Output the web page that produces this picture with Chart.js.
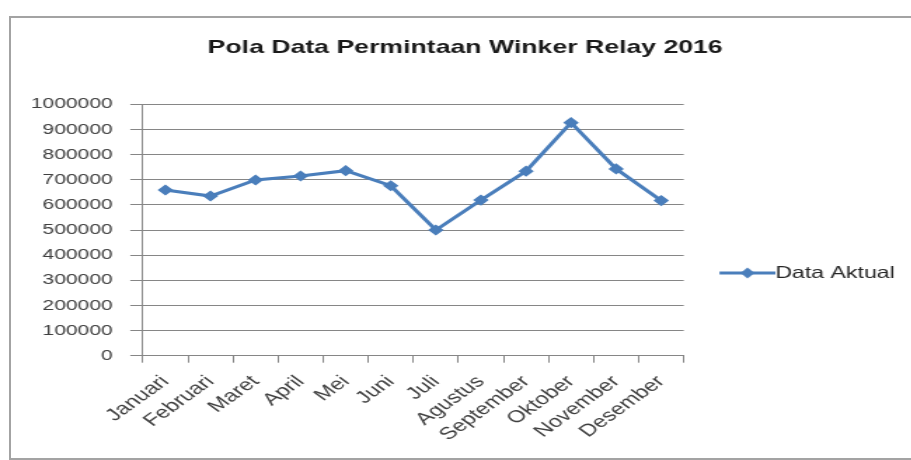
<!DOCTYPE html>
<html>
<head>
<meta charset="utf-8">
<title>Pola Data Permintaan Winker Relay 2016</title>
<script src="https://cdn.jsdelivr.net/npm/chart.js@4/dist/chart.umd.min.js"></script>
<style>
    body { margin: 0; background: #fff; overflow: hidden; }
    #frame {
        position: absolute; left: 9px; top: 16px;
        width: 1000px; height: 440px;
        border: 2px solid #a3a3a3;
    }
    /* the original picture is stretched sideways, so the chart is too */
    #wrap {
        position: absolute; left: 0; top: 0;
        width: 643.5px; height: 460px;
        transform: scaleX(1.4); transform-origin: 0 0;
    }
</style>
</head>
<body>
<div id="frame"></div>
<div id="wrap"><canvas id="myChart01"></canvas></div>

<script>
var bulan = ['Januari', 'Februari', 'Maret', 'April', 'Mei', 'Juni', 'Juli',
    'Agustus', 'September', 'Oktober', 'November', 'Desember'];
var dataAktual = [659000, 635000, 699000, 715000, 736000, 676000, 500000,
    619000, 734000, 927000, 743000, 617000];
var yMin = 0;
var yMax = 1000000;
var yStep = 100000;

document.addEventListener("DOMContentLoaded", function() {
    var biru = '#4a7ebb';
    var abu = '#868686';

    // legend icon: line with diamond, like excel
    var icon = document.createElement('canvas');
    icon.width = 48;
    icon.height = 14;
    var ic = icon.getContext('2d');
    ic.strokeStyle = biru;
    ic.lineWidth = 3;
    ic.beginPath();
    ic.moveTo(8, 7);
    ic.lineTo(48, 7);
    ic.stroke();
    ic.fillStyle = biru;
    ic.beginPath();
    ic.moveTo(28 - 5, 7);
    ic.lineTo(28, 7 - 5.5);
    ic.lineTo(28 + 5, 7);
    ic.lineTo(28, 7 + 5.5);
    ic.closePath();
    ic.fill();

    var data1 = {
        labels: bulan,
        datasets: [{
            label: 'Data Aktual',
            data: dataAktual,
            borderColor: biru,
            backgroundColor: biru,
            borderWidth: 3,
            tension: 0,
            fill: false,
            pointStyle: 'rectRot',
            pointRadius: 4.5,
            pointHoverRadius: 4.5,
            pointBorderWidth: 1.5,
            pointBackgroundColor: biru,
            pointBorderColor: biru
        }]
    };

    var ctx01 = document.getElementById('myChart01').getContext('2d');
    var myChart01 = new Chart(ctx01, {
        type: 'line',
        data: data1,
        options: {
            responsive: true,
            maintainAspectRatio: false,
            animation: false,
            events: [],
            layout: {
                padding: { left: 20, top: 0, right: 0, bottom: 0 }
            },
            scales: {
                x: {
                    offset: true,
                    afterFit: function(scale) { scale.height = 104.3; },
                    grid: {
                        offset: true,
                        drawOnChartArea: false,
                        drawTicks: true,
                        tickLength: 7,
                        color: abu
                    },
                    border: { display: true, color: abu, width: 1 },
                    ticks: {
                        autoSkip: false,
                        minRotation: 45,
                        maxRotation: 45,
                        padding: 9,
                        color: '#404040',
                        font: { family: 'Liberation Sans', size: 17 }
                    }
                },
                y: {
                    min: yMin,
                    max: yMax,
                    afterFit: function(scale) { scale.width = 81.9; },
                    grid: {
                        color: abu,
                        lineWidth: 1,
                        drawTicks: true,
                        tickLength: 9
                    },
                    border: { display: true, color: abu, width: 1 },
                    ticks: {
                        stepSize: yStep,
                        padding: 12.5,
                        color: '#404040',
                        font: { family: 'Liberation Sans', size: 15 },
                        callback: function(value) { return String(value); }
                    }
                }
            },
            plugins: {
                title: {
                    display: true,
                    text: 'Pola Data Permintaan Winker Relay 2016',
                    color: '#1a1a1a',
                    font: { family: 'Liberation Sans', size: 19, weight: 'bold' },
                    padding: { top: 36, bottom: 45.5 }
                },
                legend: {
                    position: 'right',
                    fullSize: false,
                    title: {
                        display: true,
                        text: '',
                        font: { size: 12 },
                        padding: { top: 71.6, bottom: 0 }
                    },
                    labels: {
                        usePointStyle: true,
                        pointStyleWidth: 31,
                        padding: 26,
                        color: '#262626',
                        font: { family: 'Liberation Sans', size: 16.5 },
                        generateLabels: function(chart) {
                            var items = Chart.defaults.plugins.legend.labels.generateLabels(chart);
                            items.forEach(function(it) {
                                it.pointStyle = icon;
                                it.rotation = 0;
                            });
                            return items;
                        }
                    }
                },
                tooltip: { enabled: false }
            }
        }
    });
});
</script>
</body>
</html>
